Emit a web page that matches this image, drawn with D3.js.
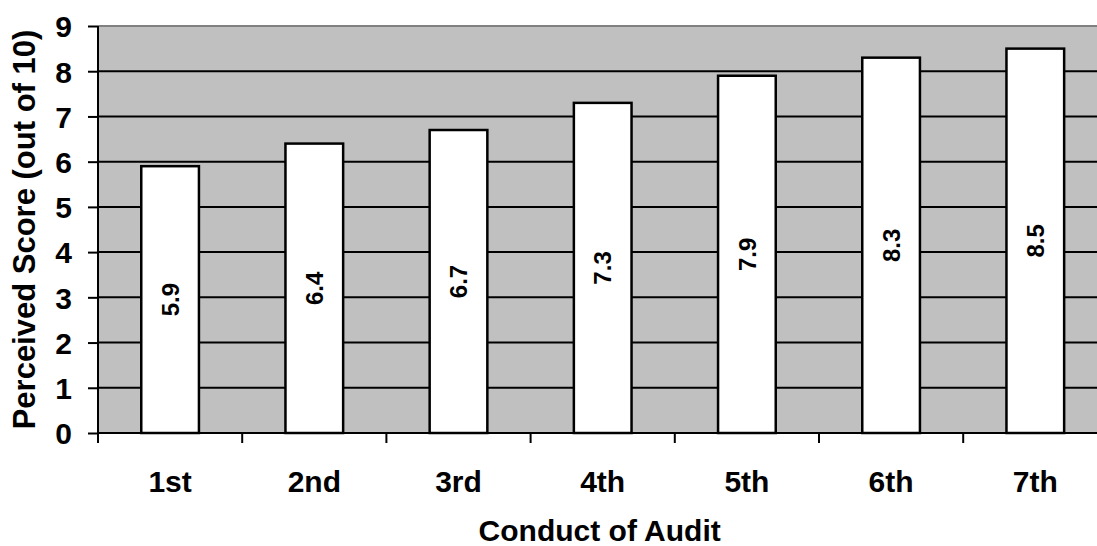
<!DOCTYPE html>
<html lang="en">
<head>
<meta charset="UTF-8" />
<title>Conduct of Audit</title>
<style>
  body { margin: 0; background: #fff; }
  svg { display: block; font-family: "Liberation Sans", Arial, sans-serif; font-weight: bold; }
</style>
<script src="https://cdn.jsdelivr.net/npm/d3@7"></script>
</head>
<body>
<svg id="chart" width="1097" height="546"></svg>
<script>
const categories = ["1st", "2nd", "3rd", "4th", "5th", "6th", "7th"];
const scores = [5.9, 6.4, 6.7, 7.3, 7.9, 8.3, 8.5];
const yTicks = [0, 1, 2, 3, 4, 5, 6, 7, 8, 9];

const svg = d3.select("#chart");
const plotLeft = 98, plotTop = 26, plotBottom = 433, step = 144.2;
const plotRight = plotLeft + step * categories.length;

const x = d3.scaleBand()
  .domain(categories)
  .range([plotLeft, plotRight])
  .paddingInner(0.6)
  .paddingOuter(0.3);

const y = d3.scaleLinear().domain([0, 9]).range([plotBottom, plotTop]);

// plot background
svg.append("rect")
  .attr("x", plotLeft).attr("y", plotTop)
  .attr("width", plotRight - plotLeft).attr("height", plotBottom - plotTop)
  .attr("fill", "#c0c0c0");

// gridlines
svg.selectAll("line.grid")
  .data(yTicks.filter(t => t > 0 && t < 9))
  .enter().append("line")
  .attr("x1", plotLeft).attr("x2", plotRight)
  .attr("y1", d => y(d)).attr("y2", d => y(d))
  .attr("stroke", "#000").attr("stroke-width", 2);

// top border
svg.append("line")
  .attr("x1", plotLeft).attr("x2", plotRight)
  .attr("y1", y(9)).attr("y2", y(9))
  .attr("stroke", "#808080").attr("stroke-width", 2);

// bars
svg.selectAll("rect.bar")
  .data(scores)
  .enter().append("rect")
  .attr("class", "bar")
  .attr("x", (d, i) => x(categories[i]))
  .attr("y", d => y(d))
  .attr("width", x.bandwidth())
  .attr("height", d => y(0) - y(d))
  .attr("fill", "#fff")
  .attr("stroke", "#000")
  .attr("stroke-width", 2.5);

// value labels, rotated inside bars
svg.selectAll("text.val")
  .data(scores)
  .enter().append("text")
  .attr("transform", (d, i) => {
    const cx = x(categories[i]) + x.bandwidth() / 2;
    const cy = (y(d) + y(0)) / 2;
    return `translate(${cx},${cy}) rotate(-90)`;
  })
  .attr("text-anchor", "middle")
  .attr("dy", "0.36em")
  .attr("font-size", 24)
  .text(d => d.toFixed(1));

// y axis
const yAxis = svg.append("g")
  .attr("transform", `translate(${plotLeft},0)`)
  .call(d3.axisLeft(y).tickValues(yTicks).tickSize(10).tickPadding(16));
yAxis.select(".domain").attr("stroke", "#000").attr("stroke-width", 2).attr("d", `M0,${plotTop}V${plotBottom}`);
yAxis.selectAll(".tick line").attr("stroke-width", 2);
yAxis.selectAll(".tick text")
  .attr("font-size", 30).attr("font-family", "'Liberation Sans', Arial, sans-serif")
  .attr("font-weight", "bold").attr("fill", "#000").attr("dy", "0.36em");

// x axis line
svg.append("line")
  .attr("x1", plotLeft).attr("x2", plotRight)
  .attr("y1", plotBottom).attr("y2", plotBottom)
  .attr("stroke", "#000").attr("stroke-width", 2);

// category boundary ticks
svg.selectAll("line.xtick")
  .data(d3.range(categories.length + 1))
  .enter().append("line")
  .attr("x1", i => plotLeft + i * x.step()).attr("x2", i => plotLeft + i * x.step())
  .attr("y1", plotBottom).attr("y2", plotBottom + 10)
  .attr("stroke", "#000").attr("stroke-width", 2);

// category labels
svg.selectAll("text.cat")
  .data(categories)
  .enter().append("text")
  .attr("x", d => x(d) + x.bandwidth() / 2)
  .attr("y", 492)
  .attr("text-anchor", "middle")
  .attr("font-size", 30)
  .text(d => d);

// axis titles
svg.append("text")
  .attr("x", (plotLeft + plotRight) / 2 - 3)
  .attr("y", 541)
  .attr("text-anchor", "middle")
  .attr("font-size", 30)
  .text("Conduct of Audit");

svg.append("text")
  .attr("transform", `translate(35,${(plotTop + plotBottom) / 2}) rotate(-90)`)
  .attr("text-anchor", "middle")
  .attr("font-size", 31)
  .text("Perceived Score (out of 10)");
</script>
</body>
</html>
